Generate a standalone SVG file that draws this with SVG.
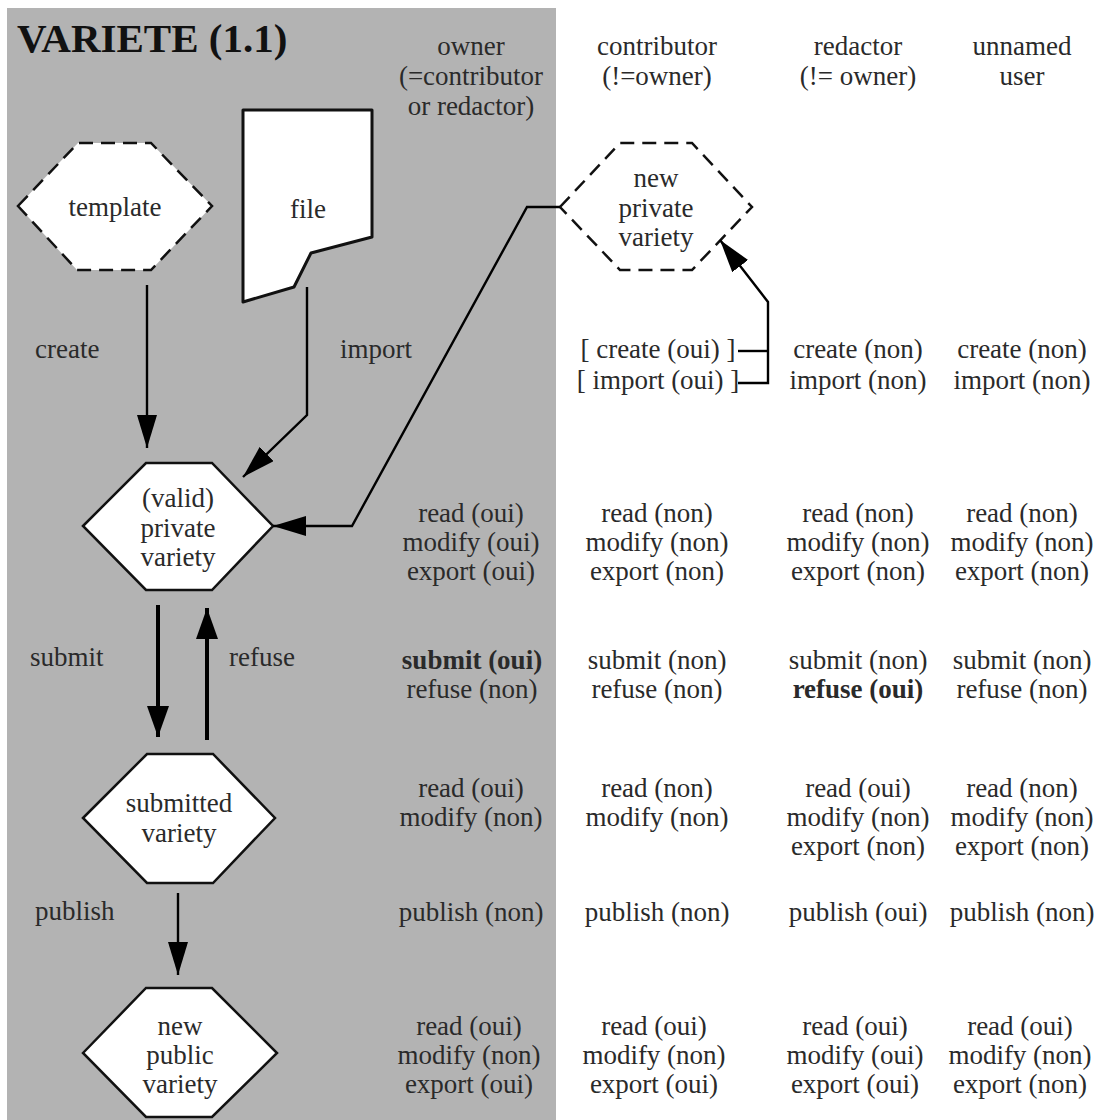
<svg xmlns="http://www.w3.org/2000/svg" width="1098" height="1120" viewBox="0 0 1098 1120">
<style>
text{font-family:"Liberation Serif","Times New Roman",serif;font-size:27px;fill:#2a2a2a}
.c{text-anchor:middle}
.b{font-weight:bold}
.title{font-size:41px;font-weight:bold;fill:#111}
.node{fill:#fff;stroke:#111;stroke-width:2.5}
.dash{fill:#fff;stroke:#111;stroke-width:2.5;stroke-dasharray:14 8}
.ln{fill:none;stroke:#000;stroke-width:2.4}
.thick{fill:none;stroke:#000;stroke-width:4}
</style>
<defs>
<marker id="ah" markerUnits="userSpaceOnUse" markerWidth="34" markerHeight="22" refX="33" refY="10" orient="auto">
<path d="M0,0 L33,10 L0,20 z" fill="#000"/>
</marker>
<marker id="ah2" markerUnits="userSpaceOnUse" markerWidth="32" markerHeight="24" refX="31" refY="11" orient="auto">
<path d="M0,0 L31,11 L0,22 z" fill="#000"/>
</marker>
</defs>
<rect x="7" y="8" width="549" height="1112" fill="#b3b3b3"/>
<text class="title" x="17" y="52">VARIETE (1.1)</text>

<g id="headers">
<text class="c" x="471" y="55">owner</text>
<text class="c" x="471" y="85">(=contributor</text>
<text class="c" x="471" y="115">or redactor)</text>
<text class="c" x="657" y="55">contributor</text>
<text class="c" x="657" y="85">(!=owner)</text>
<text class="c" x="858" y="55">redactor</text>
<text class="c" x="858" y="85">(!= owner)</text>
<text class="c" x="1022" y="55">unnamed</text>
<text class="c" x="1022" y="85">user</text>
</g>

<g id="template">
<polygon class="dash" points="18,206 78,143 151,143 212,206 151,270 77,270"/>
<text class="c" x="115" y="216">template</text>
</g>
<g id="file">
<path d="M243,110 L372,110 L372,237 L311,253 L294,287 L243,302 Z" fill="#fff" stroke="#111" stroke-width="3" stroke-linejoin="round"/>
<text class="c" x="308" y="218">file</text>
</g>
<g id="new-private">
<polygon class="dash" points="560,207 620,143 692,143 752,207 692,270 620,270"/>
<text class="c" x="656" y="187">new</text>
<text class="c" x="656" y="217">private</text>
<text class="c" x="656" y="246">variety</text>
</g>
<g id="valid-private">
<polygon class="node" points="83,526 146,463 212,463 273,526 212,590 146,590"/>
<text class="c" x="178" y="507">(valid)</text>
<text class="c" x="178" y="537">private</text>
<text class="c" x="178" y="566">variety</text>
</g>
<g id="submitted">
<polygon class="node" points="83,818 147,754 213,754 275,818 213,883 147,883"/>
<text class="c" x="179" y="812">submitted</text>
<text class="c" x="179" y="842">variety</text>
</g>
<g id="new-public">
<polygon class="node" points="83,1053 146,988 212,988 277,1053 212,1117 146,1117"/>
<text class="c" x="180" y="1035">new</text>
<text class="c" x="180" y="1064">public</text>
<text class="c" x="180" y="1093">variety</text>
</g>

<g id="connectors">
<path class="ln" d="M147,285 L147,448" marker-end="url(#ah)"/>
<path class="ln" d="M307,287 L307,415 L243,477" marker-end="url(#ah)"/>
<path class="ln" d="M560,207 L527,207 L352,526 L273,526" stroke-width="2.6" marker-end="url(#ah)"/>
<path class="ln" d="M738,351 L768,351" stroke-width="3.5"/>
<path class="ln" d="M738,383 L768,383 L768,302 L720,240" stroke-width="2.8" marker-end="url(#ah)"/>
<path class="thick" d="M158,605 L158,737" marker-end="url(#ah2)"/>
<path class="thick" d="M207,740 L207,608" marker-end="url(#ah2)"/>
<path class="ln" d="M178,893 L178,975" marker-end="url(#ah)"/>
</g>

<g id="edge-labels">
<text x="35" y="358">create</text>
<text x="340" y="358">import</text>
<text x="30" y="666">submit</text>
<text x="229" y="666">refuse</text>
<text x="35" y="920">publish</text>
</g>

<g id="table">
<text class="c" x="658" y="358">[ create (oui) ]</text>
<text class="c" x="658" y="389">[ import (oui) ]</text>
<text class="c" x="858" y="358">create (non)</text>
<text class="c" x="858" y="389">import (non)</text>
<text class="c" x="1022" y="358">create (non)</text>
<text class="c" x="1022" y="389">import (non)</text>

<text class="c" x="471" y="522">read (oui)</text>
<text class="c" x="471" y="551">modify (oui)</text>
<text class="c" x="471" y="580">export (oui)</text>
<text class="c" x="657" y="522">read (non)</text>
<text class="c" x="657" y="551">modify (non)</text>
<text class="c" x="657" y="580">export (non)</text>
<text class="c" x="858" y="522">read (non)</text>
<text class="c" x="858" y="551">modify (non)</text>
<text class="c" x="858" y="580">export (non)</text>
<text class="c" x="1022" y="522">read (non)</text>
<text class="c" x="1022" y="551">modify (non)</text>
<text class="c" x="1022" y="580">export (non)</text>

<text class="c b" x="472" y="669">submit (oui)</text>
<text class="c" x="472" y="698">refuse (non)</text>
<text class="c" x="657" y="669">submit (non)</text>
<text class="c" x="657" y="698">refuse (non)</text>
<text class="c" x="858" y="669">submit (non)</text>
<text class="c b" x="858" y="698">refuse (oui)</text>
<text class="c" x="1022" y="669">submit (non)</text>
<text class="c" x="1022" y="698">refuse (non)</text>

<text class="c" x="471" y="797">read (oui)</text>
<text class="c" x="471" y="826">modify (non)</text>
<text class="c" x="657" y="797">read (non)</text>
<text class="c" x="657" y="826">modify (non)</text>
<text class="c" x="858" y="797">read (oui)</text>
<text class="c" x="858" y="826">modify (non)</text>
<text class="c" x="858" y="855">export (non)</text>
<text class="c" x="1022" y="797">read (non)</text>
<text class="c" x="1022" y="826">modify (non)</text>
<text class="c" x="1022" y="855">export (non)</text>

<text class="c" x="471" y="921">publish (non)</text>
<text class="c" x="657" y="921">publish (non)</text>
<text class="c" x="858" y="921">publish (oui)</text>
<text class="c" x="1022" y="921">publish (non)</text>

<text class="c" x="469" y="1035">read (oui)</text>
<text class="c" x="469" y="1064">modify (non)</text>
<text class="c" x="469" y="1093">export (oui)</text>
<text class="c" x="654" y="1035">read (oui)</text>
<text class="c" x="654" y="1064">modify (non)</text>
<text class="c" x="654" y="1093">export (oui)</text>
<text class="c" x="855" y="1035">read (oui)</text>
<text class="c" x="855" y="1064">modify (oui)</text>
<text class="c" x="855" y="1093">export (oui)</text>
<text class="c" x="1020" y="1035">read (oui)</text>
<text class="c" x="1020" y="1064">modify (non)</text>
<text class="c" x="1020" y="1093">export (non)</text>
</g>
</svg>
